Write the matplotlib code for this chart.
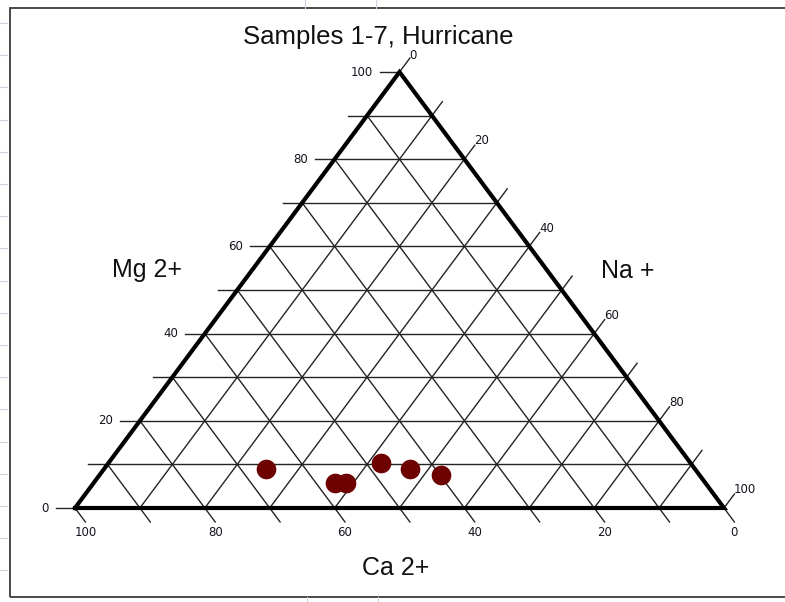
import numpy as np
import matplotlib
matplotlib.use('Agg')
import matplotlib.pyplot as plt
from matplotlib.patches import Rectangle
from matplotlib.lines import Line2D

# cation percentages for each sample (Ca 2+, Mg 2+, Na +)
ca = [66.1, 57.1, 55.4, 47.7, 43.9, 39.8]
mg = [8.9, 5.7, 5.7, 10.3, 8.9, 7.6]
na = [25.0, 37.2, 38.9, 42.0, 47.2, 52.6]

grid_levels = np.arange(0, 101, 10)
label_levels = [0, 20, 40, 60, 80, 100]

title = 'Samples 1-7, Hurricane'
mg_title = 'Mg 2+'
na_title = 'Na +'
ca_title = 'Ca 2+'

W, H = 785, 602
fig = plt.figure(figsize=(W / 100, H / 100), dpi=100)


def fig_xy(px, py):
    # pixel position (from top left) -> figure fraction
    return px / W, 1 - py / H


def to_xy(c, m, n):
    tot = np.asarray(c) + np.asarray(m) + np.asarray(n)
    return 100 * (np.asarray(n) + np.asarray(m) / 2) / tot, 100 * np.asarray(m) / tot


# triangle corners: Ca at bottom left, Na at bottom right, Mg on top
x0, x1, y0, y1 = 75, 724, 508, 72
ax = fig.add_axes([x0 / W, (H - y0) / H, (x1 - x0) / W, (y0 - y1) / H])
ax.set_xlim(0, 100)
ax.set_ylim(0, 100)
ax.axis('off')

grid_kw = dict(color='#242424', lw=1.0, clip_on=False, zorder=1)
th = 3.0   # horizontal tick length (Mg)
td = 3.2   # diagonal tick length (Ca, Na)
for k in grid_levels:
    # constant Mg, tick to the left
    ax.plot([k / 2 - th, 100 - k / 2], [k, k], **grid_kw)
    # constant Ca, tick below the base
    ax.plot([(100 - k) / 2, 100 - k + td / 2], [100 - k, -td], **grid_kw)
    # constant Na, tick beyond the right edge
    ax.plot([k, (100 + k) / 2 + td / 2], [0, 100 - k + td], **grid_kw)

ax.plot([0, 100, 50, 0], [0, 0, 100, 0], color='black', lw=3.0,
        solid_joinstyle='miter', clip_on=False, zorder=3)

px, py = to_xy(ca, mg, na)
ax.scatter(px, py, s=200, color='#6e0000', linewidths=0, zorder=4, clip_on=False)

lab_kw = dict(fontsize=8.5, family='DejaVu Sans', color='#141420')
for k in label_levels:
    ax.text(k / 2 - th - 1.1, k, str(k), ha='right', va='center', **lab_kw)
    ax.text(100 - k + td / 2, -5.7, str(k), ha='center', va='center', **lab_kw)
    # Na labels; the top one sits a little lower, under the title
    dy = 0.9 if k == 0 else 0.5
    ax.text((100 + k) / 2 + td / 2 - 0.1, 100 - k + td - dy, str(k),
            ha='left', va='bottom', **lab_kw)

txt_kw = dict(family='Liberation Sans', color='#111111', va='baseline', ha='center')
fig.text(*fig_xy(378.5, 44), title, fontsize=18.5, **txt_kw)
fig.text(*fig_xy(147, 277), mg_title, fontsize=18, **txt_kw)
fig.text(*fig_xy(628, 278), na_title, fontsize=18, **txt_kw)
fig.text(*fig_xy(396, 575), ca_title, fontsize=18, **txt_kw)

# chart border and the sheet grid peeking around it
line_c = '#cdd4e0'
for y in np.arange(23, H, 32.2):
    fig.add_artist(Line2D([0, 7 / W], [1 - y / H] * 2, color=line_c, lw=0.8))
for x in [305, 376]:
    fig.add_artist(Line2D([x / W] * 2, [1, 1 - 8 / H], color=line_c, lw=0.8))
    fig.add_artist(Line2D([(x + 2) / W] * 2, [0, 5 / H], color=line_c, lw=0.8))
fig.add_artist(Rectangle(fig_xy(10, 597), 800 / W, 589 / H, transform=fig.transFigure,
                         fill=False, ec='#3a3a3a', lw=1.3))

fig.savefig('out.png', dpi=100)
